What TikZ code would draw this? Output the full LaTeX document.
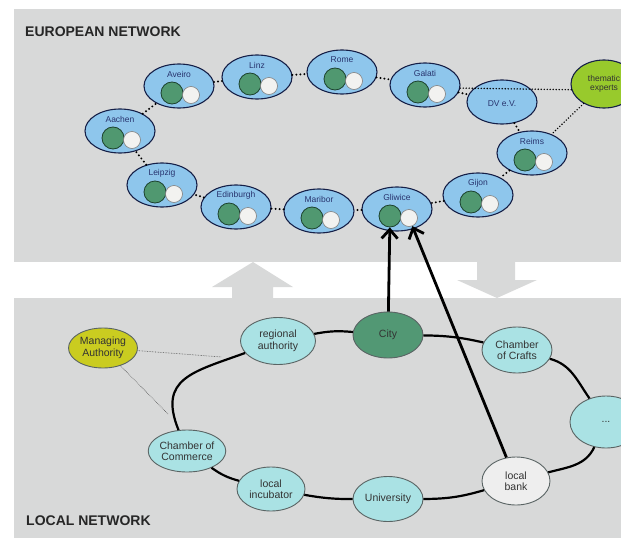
\documentclass[tikz,border=0pt]{standalone}
\usepackage{fontspec}
\setmainfont{Liberation Sans}
\usetikzlibrary{arrows.meta,shapes.geometric}

\definecolor{panelgray}{RGB}{216,217,217}
\definecolor{partnerblue}{RGB}{142,198,236}
\definecolor{partnerline}{RGB}{22,32,72}
\definecolor{actorgreen}{RGB}{80,152,112}
\definecolor{actorline}{RGB}{28,66,46}
\definecolor{expertwhite}{RGB}{242,242,240}
\definecolor{themegreen}{RGB}{152,202,44}
\definecolor{mayellow}{RGB}{202,204,32}
\definecolor{localcyan}{RGB}{170,226,228}
\definecolor{localline}{RGB}{90,100,100}
\definecolor{citygreen}{RGB}{82,152,116}
\definecolor{bankwhite}{RGB}{238,238,238}
\definecolor{labelblue}{RGB}{40,52,110}

\begin{document}
\begin{tikzpicture}[x=1pt,y=-1pt,
  partner/.style={ellipse,draw=partnerline,fill=partnerblue,line width=1.1pt,
    minimum width=70pt,minimum height=44pt,inner sep=0pt},
  partnertext/.style={inner sep=0pt,text=labelblue,font=\fontsize{8.5}{9}\selectfont},
  actor/.style={circle,draw=actorline,fill=actorgreen,line width=0.8pt,minimum size=22pt,inner sep=0pt},
  expert/.style={circle,draw=gray,fill=expertwhite,line width=0.6pt,minimum size=17pt,inner sep=0pt},
  chain/.style={line width=2.2pt,line cap=round,dash pattern=on 0pt off 4pt},
  themelink/.style={line width=1.6pt,line cap=round,dash pattern=on 0pt off 3pt},
  local/.style={ellipse,draw=localline,fill=localcyan,line width=0.9pt,
    minimum width=70pt,minimum height=46pt,inner sep=0pt,align=center,
    text=black!80,font=\fontsize{10.5}{11.5}\selectfont},
  ring/.style={line width=2.2pt,black},
  thinlink/.style={gray!60!black,line width=0.6pt,densely dotted},
  uplink/.style={line width=2.8pt,-{Straight Barb[length=9pt,width=16pt]}},
  title/.style={anchor=west,inner sep=0pt,text=black!85,font=\fontsize{14}{14}\selectfont\bfseries}]

\useasboundingbox (0,0) rectangle (621,538);

% Grey panels and the two wide arrows between them
\fill[panelgray] (14,9) rectangle (621,262);
\fill[panelgray] (14,298) rectangle (621,538);
\fill[panelgray] (212,287) -- (253,262) -- (293,287) -- (273,287) -- (273,298)
  -- (232,298) -- (232,287) -- cycle;
\fill[panelgray] (477,262) -- (515,262) -- (515,280) -- (537,280) -- (497,298)
  -- (457,280) -- (477,280) -- cycle;

\node[title] (eu) at (25,32) {EUROPEAN NETWORK};
\node[title] (loc) at (26,521) {LOCAL NETWORK};

% Partner cities of the european network
\foreach \n/\x/\y/\t in {aac/120/131/Aachen, ave/179/86/Aveiro, lnz/257/77/Linz,
  rom/342/72/Rome, gal/425/85/Galati, rms/532/153/Reims, gij/478/195/Gijon,
  gli/397/209/Gliwice, mar/319/211/Maribor, edi/236/207/Edinburgh, lei/162/185/Leipzig}
{
  \node[partner] (\n) at (\x,\y) {};
  \node[partnertext] (\n-t) at (\x,\y-12) {\t};
  \node[actor] (\n-g) at (\x-7,\y+7) {};
  \node[expert] (\n-w) at (\x+12,\y+9) {};
}
\node[partner] (dve) at (502,102) {};
\node[partnertext] (dve-t) at (502,104) {DV e.V.};
\node[ellipse,draw=partnerline,fill=themegreen,line width=1.1pt,minimum width=66pt,
  minimum height=48pt,inner sep=0pt,align=center,text=black!80,
  font=\fontsize{8.5}{9.5}\selectfont] (the) at (604,84) {thematic\\experts};

% Links of the european network
\foreach \a/\b in {aac/ave,ave/lnz,lnz/rom,rom/gal,gal/dve,dve/rms,rms/gij,
  gij/gli,gli/mar,mar/edi,edi/lei,lei/aac}
  \draw[chain] (\a) -- (\b);
\draw[themelink] (gal.-5) -- (the.190);
\draw[themelink] (the) -- (rms);

% Actors of the local network
\node[local,fill=mayellow,minimum width=69pt,minimum height=40pt] (ma) at (103,348) {Managing\\Authority};
\node[local,minimum width=75pt,minimum height=47pt] (ra) at (278,341) {regional\\authority};
\node[local,fill=citygreen] (city) at (388,335) {City};
\node[local] (coc) at (517,350) {Chamber\\of Crafts};
\node[local,minimum width=72pt,minimum height=52pt] (more) at (606,422) {...};
\node[local,fill=bankwhite,minimum width=68pt,minimum height=48pt] (bank) at (516,481) {local\\bank};
\node[local,minimum height=45pt] (uni) at (388,499) {University};
\node[local,minimum width=68pt,minimum height=44pt] (inc) at (271,489) {local\\incubator};
\node[local,minimum width=68pt,minimum height=42pt] (com) at (187,451) {Chamber of\\Commerce};

% Ring of the local network
\draw[ring] (ra) to[bend left=8] (city);
\draw[ring] (city) to[bend left=6] (coc);
\draw[ring] (coc) to[out=-15,in=125] (more);
\draw[ring] (more) to[out=-115,in=15] (bank);
\draw[ring] (bank) to[bend left=8] (uni);
\draw[ring] (uni) to[bend left=5] (inc);
\draw[ring] (inc) to[bend left=10] (com);
\draw[ring] (com) to[out=112,in=200,looseness=1.4] (ra);

\coordinate (ring-top) at (222,357);
\coordinate (ring-left) at (168,414);
\draw[thinlink] (ma) -- (ring-top);
\draw[thinlink] (ma) -- (ring-left);

% From the local network up to Gliwice
\draw[uplink] (city) -- (gli-g);
\draw[uplink] (bank) -- (gli-w);

\end{tikzpicture}
\end{document}
